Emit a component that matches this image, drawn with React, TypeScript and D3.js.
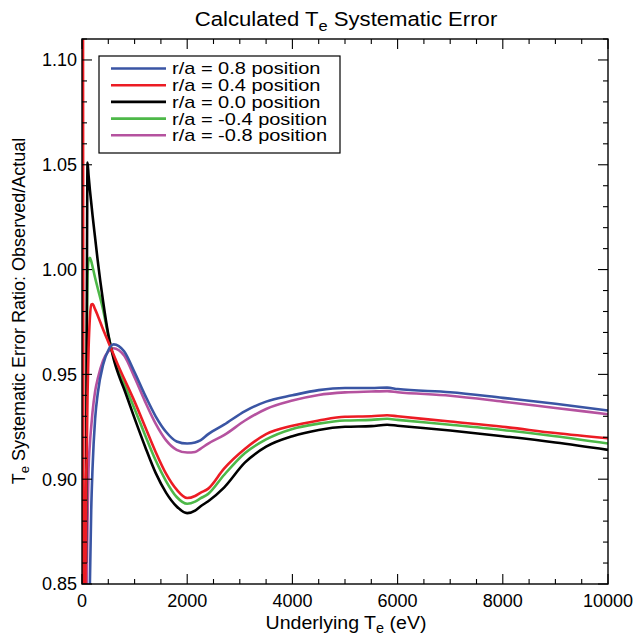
import React from "react";
import * as d3 from "d3";

// Underlying Te (eV)
const T = [0, 15, 30, 45, 60, 75, 90, 105, 125, 150, 175, 200, 250, 300, 400, 500, 600, 700, 800, 1000, 1200, 1400, 1600, 1800, 2000, 2150, 2250, 2400, 2700, 3100, 3500, 4000, 4500, 5000, 5500, 5800, 6000, 7000, 8000, 9000, 10000];

const RA_P08 = [null, null, null, null, null, null, null, null, 0.80, 0.85, 0.885, 0.905, 0.929, 0.941, 0.9545, 0.9615, 0.9643, 0.9635, 0.961, 0.951, 0.940, 0.930, 0.9225, 0.918, 0.917, 0.9175, 0.9185, 0.9215, 0.926, 0.9325, 0.937, 0.940, 0.9425, 0.9435, 0.9435, 0.9437, 0.943, 0.9415, 0.9388, 0.936, 0.9328];
const RA_P04 = [0.80, 1.20, 0.80, 0.88, 0.82, 0.895, 0.912, 0.94, 0.962, 0.977, 0.9833, 0.9835, 0.981, 0.978, 0.9715, 0.9655, 0.9595, 0.9535, 0.948, 0.937, 0.925, 0.913, 0.9025, 0.895, 0.891, 0.892, 0.8935, 0.8955, 0.905, 0.9145, 0.9215, 0.9255, 0.928, 0.9298, 0.930, 0.9305, 0.930, 0.9275, 0.925, 0.922, 0.9195];
const RA_00 = [null, null, null, null, null, 0.86, 0.97, 1.051, 1.045, 1.038, 1.032, 1.026, 1.015, 1.004, 0.985, 0.969, 0.9575, 0.9495, 0.943, 0.929, 0.9155, 0.903, 0.8935, 0.887, 0.8838, 0.885, 0.887, 0.8895, 0.896, 0.908, 0.9155, 0.9205, 0.9235, 0.925, 0.9253, 0.926, 0.9255, 0.9232, 0.9205, 0.9175, 0.914];
const RA_M04 = [null, null, null, null, null, 0.884, 0.965, 0.997, 1.0045, 1.0056, 1.004, 1.0015, 0.996, 0.991, 0.981, 0.9685, 0.9585, 0.951, 0.9455, 0.9335, 0.921, 0.909, 0.899, 0.8915, 0.8883, 0.8893, 0.8908, 0.893, 0.902, 0.9125, 0.919, 0.924, 0.9265, 0.928, 0.9283, 0.9288, 0.9283, 0.926, 0.9235, 0.9205, 0.917];
const RA_M08 = [null, null, null, null, null, null, 0.85, 0.88, 0.905, 0.917, 0.925, 0.932, 0.942, 0.948, 0.9565, 0.961, 0.9625, 0.9615, 0.959, 0.9485, 0.937, 0.9265, 0.9185, 0.914, 0.9127, 0.913, 0.9145, 0.917, 0.921, 0.928, 0.9335, 0.9375, 0.9402, 0.9414, 0.9418, 0.942, 0.9415, 0.9398, 0.937, 0.934, 0.931];

const SERIES_NAMES = ["r/a = 0.8 position", "r/a = 0.4 position", "r/a = 0.0 position", "r/a = -0.4 position", "r/a = -0.8 position"];
const SERIES_VALUES = [RA_P08, RA_P04, RA_00, RA_M04, RA_M08];
const COLORS = ["#3a55a4", "#ec1c24", "#000000", "#4db848", "#b5529f"];
const DRAW_ORDER = [4, 3, 2, 1, 0];

const X_TICKS = [0, 2000, 4000, 6000, 8000, 10000];
const Y_TICKS = [0.85, 0.90, 0.95, 1.00, 1.05, 1.10];

const FONT = "'Liberation Sans', Arial, Helvetica, sans-serif";

export default function App() {
  const W = 636, H = 635;
  const L = 82, R = 608, TOP = 39, B = 584;
  const x = d3.scaleLinear().domain([0, 10000]).range([L, R]);
  const y = d3.scaleLinear().domain([0.85, 1.11]).range([B, TOP]);

  const line = d3
    .line<{ t: number; v: number | null }>()
    .defined((d) => d.v != null)
    .x((d) => x(d.t))
    .y((d) => y(d.v as number))
    .curve(d3.curveMonotoneX);

  const xMinor = d3.range(0, 10001, 500);
  const yMinor = d3.range(85, 112, 1).map((v) => v / 100);

  const legendRowY = (i: number) => 68.5 + i * 16.7;

  return (
    <svg width={W} height={H} style={{ position: "absolute", left: 0, top: 0, background: "#fff" }} fontFamily={FONT}>
      <defs>
        <clipPath id="plotclip">
          <rect x={L} y={TOP} width={R - L} height={B - TOP} />
        </clipPath>
      </defs>
      <rect x={0} y={0} width={W} height={H} fill="#fff" />

      {/* curves */}
      <g clipPath="url(#plotclip)">
        {DRAW_ORDER.map((si) => (
          <path
            key={si}
            d={line(T.map((t, i) => ({ t, v: SERIES_VALUES[si][i] }))) || ""}
            fill="none"
            stroke={COLORS[si]}
            strokeWidth={2.6}
            strokeLinejoin="round"
          />
        ))}
      </g>

      {/* frame */}
      <rect x={L} y={TOP} width={R - L} height={B - TOP} fill="none" stroke="#000" strokeWidth={1.4} />

      {/* x ticks bottom & top */}
      {xMinor.map((t) => {
        const major = t % 2000 === 0;
        const len = major ? 10 : 5;
        return (
          <g key={"xt" + t} stroke="#000" strokeWidth={1.1}>
            <line x1={x(t)} x2={x(t)} y1={B} y2={B - len} />
            <line x1={x(t)} x2={x(t)} y1={TOP} y2={TOP + len} />
          </g>
        );
      })}
      {/* y ticks left & right */}
      {yMinor.map((v) => {
        const major = Math.round(v * 100) % 5 === 0;
        const len = major ? 10 : 5;
        return (
          <g key={"yt" + v} stroke="#000" strokeWidth={1.1}>
            <line x1={L} x2={L + len} y1={y(v)} y2={y(v)} />
            <line x1={R} x2={R - len} y1={y(v)} y2={y(v)} />
          </g>
        );
      })}

      {/* tick labels */}
      {X_TICKS.map((t) => (
        <text key={"xl" + t} x={x(t)} y={607} textAnchor="middle" fontSize={18}>
          {t}
        </text>
      ))}
      {Y_TICKS.map((v) => (
        <text key={"yl" + v} x={77} y={y(v)} dy="0.36em" textAnchor="end" fontSize={18}>
          {v.toFixed(2)}
        </text>
      ))}

      {/* title */}
      <text transform="translate(346,26) scale(1.135,1)" textAnchor="middle" fontSize={19.5}>
        Calculated T
        <tspan dy={5} fontSize={14.5}>e</tspan>
        <tspan dy={-5}> Systematic Error</tspan>
      </text>

      {/* x label */}
      <text transform="translate(346,629) scale(1.03,1)" textAnchor="middle" fontSize={19}>
        Underlying T
        <tspan dy={4} fontSize={14}>e</tspan>
        <tspan dy={-4}> (eV)</tspan>
      </text>

      {/* y label */}
      <text transform="translate(25,311) rotate(-90)" textAnchor="middle" fontSize={18}>
        T
        <tspan dy={4} fontSize={13}>e</tspan>
        <tspan dy={-4}> Systematic Error Ratio: Observed/Actual</tspan>
      </text>

      {/* legend */}
      <rect x={99} y={56} width={241} height={97} fill="#fff" stroke="#000" strokeWidth={1.2} />
      {SERIES_NAMES.map((name, i) => (
        <g key={name}>
          <line x1={111} x2={166} y1={legendRowY(i)} y2={legendRowY(i)} stroke={COLORS[i]} strokeWidth={2.6} />
          <text transform={`translate(172,${legendRowY(i)}) scale(1.22,1)`} dy="0.36em" fontSize={16.4}>
            {name}
          </text>
        </g>
      ))}
    </svg>
  );
}
